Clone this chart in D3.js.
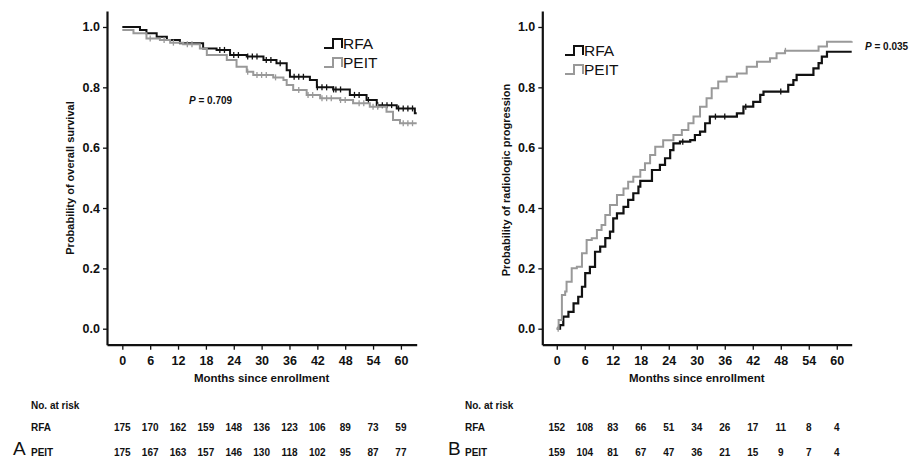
<!DOCTYPE html>
<html>
<head>
<meta charset="utf-8">
<script src="https://cdn.jsdelivr.net/npm/d3@7"></script>
<style>
  body { margin: 0; background: #fff; }
  svg { display: block; font-family: "Liberation Sans", Arial, sans-serif; }
</style>
</head>
<body>
<script>
// Panel A - overall survival (months, probability)
const survRfaT = [0, 3.8, 5.2, 7.4, 9.6, 12.4, 17.4, 20.3, 23.2, 26.8, 30.4, 33.2, 35.4, 36.1, 40.4, 41.9, 45.4, 49.0, 52.6, 54.8, 59.1, 63.0, 63.4];
const survRfaP = [1.0, 0.99, 0.979, 0.968, 0.957, 0.946, 0.929, 0.924, 0.907, 0.902, 0.891, 0.880, 0.857, 0.835, 0.824, 0.800, 0.793, 0.775, 0.758, 0.741, 0.730, 0.714, 0.714];
const survPeitT = [0, 2.4, 5.2, 8.1, 10.3, 13.1, 16.7, 18.2, 22.5, 24.6, 26.8, 28.2, 32.5, 34.7, 35.4, 36.8, 39.7, 42.6, 46.9, 49.7, 53.3, 56.9, 58.3, 59.8, 63.4];
const survPeitP = [0.99, 0.979, 0.962, 0.957, 0.948, 0.943, 0.929, 0.907, 0.891, 0.868, 0.852, 0.841, 0.833, 0.824, 0.808, 0.791, 0.775, 0.764, 0.758, 0.747, 0.736, 0.719, 0.692, 0.681, 0.681];
const survRfaCens = [21, 22, 24, 25, 27, 28, 29, 31, 32, 34, 37, 38, 39, 42, 43, 44, 45.5, 46, 47, 50, 51, 53, 55, 56, 57, 58, 59.5, 60.5, 61.5, 62.5];
const survPeitCens = [6, 9, 11, 14, 15, 27, 29, 30, 31, 33, 38, 40, 41, 43, 44, 45, 47, 48, 51, 52, 54, 55, 60.5, 61.5, 62.5];

// Panel B - radiologic progression (months, probability)
const progRfaT = [0, 0.7, 1.4, 2.5, 3.6, 4.6, 5.4, 6.1, 7.1, 8.2, 9.3, 10.4, 11.4, 12.1, 12.9, 14.3, 15.3, 16.4, 17.5, 17.9, 20.4, 22.1, 23.2, 24.3, 25.0, 26.4, 28.6, 29.6, 30.7, 31.8, 32.8, 38.6, 40.0, 42.1, 43.6, 44.3, 49.6, 50.7, 51.4, 55.0, 56.1, 56.8, 57.9, 63.2];
const progRfaP = [0, 0.012, 0.04, 0.056, 0.084, 0.106, 0.139, 0.184, 0.205, 0.255, 0.272, 0.300, 0.322, 0.366, 0.382, 0.404, 0.427, 0.449, 0.471, 0.490, 0.526, 0.543, 0.565, 0.592, 0.614, 0.620, 0.625, 0.642, 0.653, 0.681, 0.703, 0.714, 0.736, 0.752, 0.775, 0.786, 0.808, 0.824, 0.841, 0.863, 0.880, 0.902, 0.918, 0.918];
const progPeitT = [0, 0.4, 1.1, 1.8, 2.1, 3.2, 4.3, 5.4, 6.4, 7.5, 8.6, 9.6, 10.4, 11.4, 12.9, 14.3, 15.3, 16.4, 17.9, 18.9, 20.0, 21.1, 22.8, 25.0, 26.8, 28.2, 29.3, 30.7, 32.1, 33.2, 34.6, 36.4, 38.6, 40.7, 42.9, 45.7, 47.1, 48.9, 56.1, 57.9, 63.2];
const progPeitP = [0, 0.029, 0.112, 0.123, 0.156, 0.200, 0.205, 0.250, 0.294, 0.300, 0.327, 0.344, 0.377, 0.410, 0.443, 0.465, 0.487, 0.504, 0.526, 0.548, 0.576, 0.603, 0.625, 0.642, 0.659, 0.681, 0.703, 0.736, 0.764, 0.797, 0.819, 0.835, 0.846, 0.868, 0.885, 0.896, 0.913, 0.921, 0.935, 0.951, 0.953];
const progRfaCens = [27, 34, 36, 40.5, 48];
const progPeitCens = [0.3, 49];

const monthTicks = [0, 6, 12, 18, 24, 30, 36, 42, 48, 54, 60];
const probTicks = [0, 0.2, 0.4, 0.6, 0.8, 1.0];
const riskA_RFA = [175, 170, 162, 159, 148, 136, 123, 106, 89, 73, 59];
const riskA_PEIT = [175, 167, 163, 157, 146, 130, 118, 102, 95, 87, 77];
const riskB_RFA = [152, 108, 83, 66, 51, 34, 26, 17, 11, 8, 4];
const riskB_PEIT = [159, 104, 81, 67, 47, 36, 21, 15, 9, 7, 4];

const black = "#111", gray = "#999";

const svg = d3.select("body").append("svg")
    .attr("width", 910)
    .attr("height", 460);

function stepValue(ts, ps, t) {
    let v = ps[0];
    for (let i = 0; i < ts.length; i++) if (ts[i] <= t) v = ps[i];
    return v;
}

function drawPanel(opt) {
    const x = d3.scaleLinear().domain(opt.xDomain).range([opt.left, opt.right]);
    const y = d3.scaleLinear().domain([-0.053, 1.053]).range([344.7, 11]);

    // axes
    const yAxis = svg.append("g")
        .attr("transform", `translate(${opt.left},0)`)
        .call(d3.axisLeft(y).tickValues(probTicks).tickFormat(d3.format(".1f")).tickSize(4).tickSizeOuter(0));
    const xAxis = svg.append("g")
        .attr("transform", "translate(0,344.7)")
        .call(d3.axisBottom(x).tickValues(monthTicks).tickSize(5).tickSizeOuter(0));
    [yAxis, xAxis].forEach(g => {
        g.select(".domain").attr("stroke", black).attr("stroke-width", 2.2);
        g.selectAll(".tick line").attr("stroke", black).attr("stroke-width", 1.3);
        g.selectAll(".tick text").attr("fill", black)
            .style("font-size", "12.5px").style("font-weight", "bold")
            .style("font-family", "Liberation Sans, Arial, sans-serif");
    });
    xAxis.selectAll(".tick text").attr("dy", "0.95em");

    svg.append("text")
        .attr("transform", `translate(${opt.yTitleX},${opt.yTitleY}) rotate(-90)`)
        .attr("text-anchor", "middle")
        .style("font-size", "11px").style("font-weight", "bold")
        .attr("fill", black)
        .text(opt.yTitle);
    svg.append("text")
        .attr("x", x(30)).attr("y", 382)
        .attr("text-anchor", "middle")
        .style("font-size", "11.5px").style("font-weight", "bold")
        .attr("fill", black)
        .text("Months since enrollment");

    // curves
    const line = d3.line()
        .x(d => x(d[0])).y(d => y(d[1]))
        .curve(d3.curveStepAfter);
    opt.series.forEach(s => {
        const pts = s.t.map((t, i) => [t, s.p[i]]);
        svg.append("path")
            .datum(pts)
            .attr("d", line)
            .attr("fill", "none")
            .attr("stroke", s.color)
            .attr("stroke-width", s.width);
        svg.append("g").selectAll("line")
            .data(s.cens)
            .join("line")
            .attr("x1", d => x(d)).attr("x2", d => x(d))
            .attr("y1", d => y(stepValue(s.t, s.p, d)) - 3)
            .attr("y2", d => y(stepValue(s.t, s.p, d)) + 3)
            .attr("stroke", s.color)
            .attr("stroke-width", 1.3);
    });

    // legend
    opt.series.forEach((s, i) => {
        const lx = opt.legendX, ly = opt.legendY + i * 19;
        svg.append("path")
            .attr("d", `M${lx},${ly} h9 v-9 h9 v9`)
            .attr("fill", "none")
            .attr("stroke", s.color)
            .attr("stroke-width", 2);
        svg.append("text")
            .attr("x", lx + 19).attr("y", ly + 1)
            .style("font-size", "15.5px")
            .attr("fill", black)
            .text(s.name);
    });

    // p value
    const pt = svg.append("text")
        .attr("x", opt.pX).attr("y", opt.pY)
        .style("font-size", "10px").style("font-weight", "bold")
        .attr("fill", black);
    pt.append("tspan").style("font-style", "italic").text("P");
    pt.append("tspan").text(" = " + opt.pText);

    // number at risk
    svg.append("text")
        .attr("x", opt.riskLabelX).attr("y", 409)
        .style("font-size", "10px").style("font-weight", "bold")
        .attr("fill", black)
        .text("No. at risk");
    opt.series.forEach((s, i) => {
        const ry = 431 + i * 25;
        svg.append("text")
            .attr("x", opt.riskLabelX).attr("y", ry)
            .style("font-size", "10px").style("font-weight", "bold")
            .attr("fill", black)
            .text(s.name);
        svg.append("g").selectAll("text")
            .data(s.risk)
            .join("text")
            .attr("x", (d, j) => x(monthTicks[j]))
            .attr("y", ry)
            .attr("text-anchor", "middle")
            .style("font-size", "10px").style("font-weight", "bold")
            .attr("fill", black)
            .text(d => d);
    });

    svg.append("text")
        .attr("x", opt.letterX).attr("y", 455)
        .style("font-size", "19px")
        .attr("fill", black)
        .text(opt.letter);
}

drawPanel({
    xDomain: [-3.3, 63.4], left: 107, right: 416.7,
    yTitle: "Probability of overall survival", yTitleX: 74, yTitleY: 178,
    legendX: 324, legendY: 48, pX: 189, pY: 104, pText: "0.709",
    riskLabelX: 31, letter: "A", letterX: 13,
    series: [
        { name: "RFA", t: survRfaT, p: survRfaP, cens: survRfaCens, risk: riskA_RFA, color: black, width: 2 },
        { name: "PEIT", t: survPeitT, p: survPeitP, cens: survPeitCens, risk: riskA_PEIT, color: gray, width: 2 }
    ]
});

drawPanel({
    xDomain: [-3.1, 63.2], left: 542.3, right: 851.7,
    yTitle: "Probability of radiologic progression", yTitleX: 510, yTitleY: 180,
    legendX: 565, legendY: 55, pX: 865, pY: 50, pText: "0.035",
    riskLabelX: 465, letter: "B", letterX: 448,
    series: [
        { name: "RFA", t: progRfaT, p: progRfaP, cens: progRfaCens, risk: riskB_RFA, color: black, width: 2.2 },
        { name: "PEIT", t: progPeitT, p: progPeitP, cens: progPeitCens, risk: riskB_PEIT, color: gray, width: 2 }
    ]
});
</script>
</body>
</html>
